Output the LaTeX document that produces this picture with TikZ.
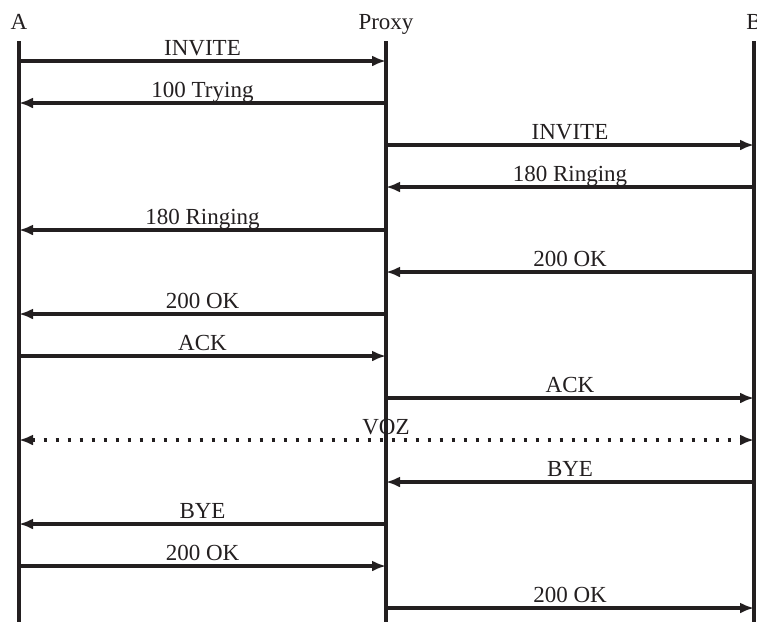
\documentclass[tikz,border=0pt]{standalone}
\usepackage{fontspec}
\setmainfont{Liberation Serif}
\usepackage{tikz}
\usetikzlibrary{arrows.meta}
\definecolor{inkblack}{HTML}{231F20}

\begin{document}
\begin{tikzpicture}[x=1pt,y=-1pt,font=\fontsize{23}{27}\selectfont,
    life/.style={line width=3.2pt,inkblack},
    msg/.style={line width=3.2pt,inkblack,-{Latex[length=14pt,width=11pt]}},
    voz/.style={line width=3.4pt,inkblack,dash pattern=on 3.4pt off 8.6pt,{Latex[length=14pt,width=11pt]}-{Latex[length=14pt,width=11pt]}},
    lbl/.style={anchor=base,inner sep=0pt,yshift=6pt,text=inkblack}]
    \useasboundingbox (0,0) rectangle (757,622);
    \node[anchor=base,text=inkblack] (A) at (19,29) {A};
    \node[anchor=base,text=inkblack] (P) at (386,29) {Proxy};
    \node[anchor=base,text=inkblack] (B) at (754,29) {B};
    \coordinate (atop) at (19,41);   \coordinate (abot) at (19,622);
    \coordinate (ptop) at (386,41);  \coordinate (pbot) at (386,622);
    \coordinate (btop) at (754,41);  \coordinate (bbot) at (754,622);
    % one point on each lifeline per message
    \foreach \n/\y in {1/61,2/103,3/145,4/187,5/230,6/272,7/314,8/356,9/398,10/440,11/482,12/524,13/566,14/608} {
      \coordinate (a\n) at (19,\y);
      \coordinate (p\n) at (386,\y);
      \coordinate (b\n) at (754,\y);
    }
    \draw[msg] (a1) -- node[lbl] {INVITE} (p1);
    \draw[msg] (p2) -- node[lbl] {100 Trying} (a2);
    \draw[msg] (p3) -- node[lbl] {INVITE} (b3);
    \draw[msg] (b4) -- node[lbl] {180 Ringing} (p4);
    \draw[msg] (p5) -- node[lbl] {180 Ringing} (a5);
    \draw[msg] (b6) -- node[lbl] {200 OK} (p6);
    \draw[msg] (p7) -- node[lbl] {200 OK} (a7);
    \draw[msg] (a8) -- node[lbl] {ACK} (p8);
    \draw[msg] (p9) -- node[lbl] {ACK} (b9);
    \node[lbl] (vozlbl) at (p10) {VOZ};
    \draw[voz] (a10) -- (b10);
    \draw[msg] (b11) -- node[lbl] {BYE} (p11);
    \draw[msg] (p12) -- node[lbl] {BYE} (a12);
    \draw[msg] (a13) -- node[lbl] {200 OK} (p13);
    \draw[msg] (p14) -- node[lbl] {200 OK} (b14);
    \draw[life] (atop) -- (abot);
    \draw[life] (ptop) -- (pbot);
    \draw[life] (btop) -- (bbot);
  \end{tikzpicture}
\end{document}
